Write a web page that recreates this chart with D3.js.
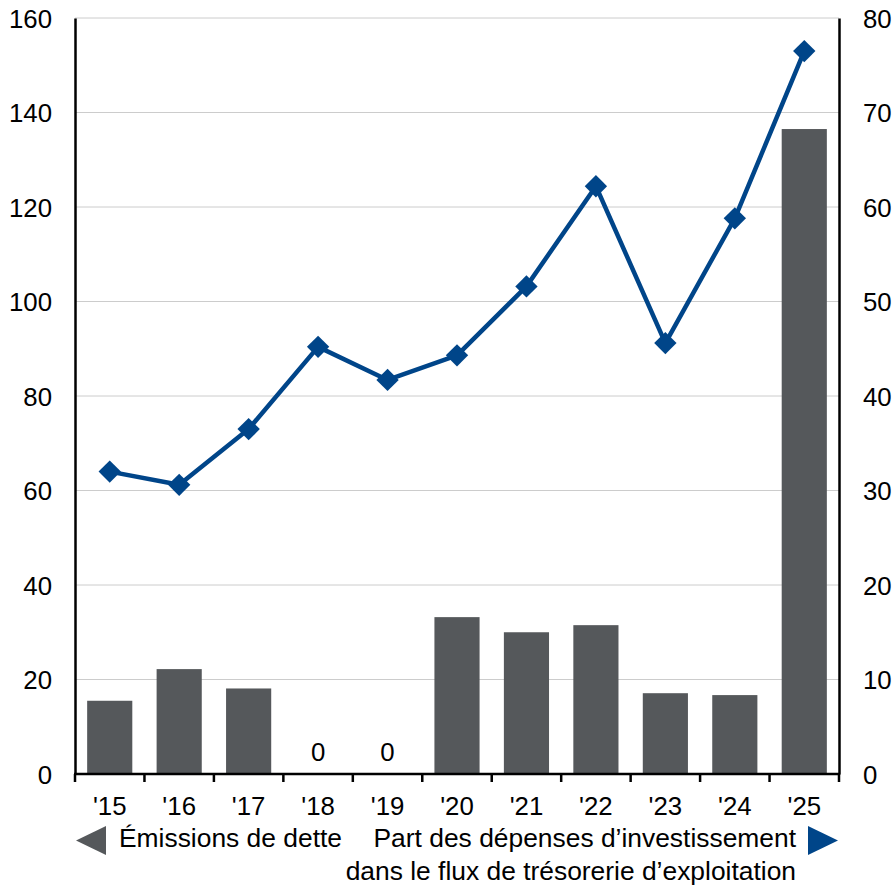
<!DOCTYPE html>
<html><head><meta charset="utf-8">
<script src="https://cdn.jsdelivr.net/npm/d3@7"></script>
<style>body{margin:0;background:#fff}svg{display:block}text{font-family:"Liberation Sans",Arial,sans-serif;fill:#000}</style>
</head><body><svg id="c" width="894" height="887"></svg>
<script>
const categories = ["'15","'16","'17","'18","'19","'20","'21","'22","'23","'24","'25"];
const debtIssuance = [15.5, 22.2, 18.1, 0, 0, 33.2, 30.0, 31.5, 17.1, 16.7, 136.5];
const capexShare = [32.0, 30.6, 36.5, 45.2, 41.7, 44.3, 51.6, 62.2, 45.6, 58.8, 76.5];
const leftTicks = [0,20,40,60,80,100,120,140,160];
const rightTicks = [0,10,20,30,40,50,60,70,80];

const svg = d3.select("#c");
const L = 75, R = 839, T = 18, B = 774;
const x = d3.scaleBand().domain(categories).range([L, R]).paddingInner(0.35).paddingOuter(0.175);
const yL = d3.scaleLinear().domain([0,160]).range([B, T]);
const yR = d3.scaleLinear().domain([0,80]).range([B, T]);
const fs = 25.8, lfs = 26.4;

// grid
svg.append("g").selectAll("line").data(leftTicks.filter(d=>d>0)).join("line")
  .attr("x1", L).attr("x2", R).attr("y1", d=>yL(d)).attr("y2", d=>yL(d))
  .attr("stroke", "#cccccc").attr("stroke-width", 1);

// bars
svg.append("g").selectAll("rect").data(debtIssuance).join("rect")
  .attr("x", (d,i)=>x(categories[i])).attr("width", x.bandwidth())
  .attr("y", d=>yL(d)).attr("height", d=>B - yL(d))
  .attr("fill", "#55585b");

// zero labels
svg.append("g").selectAll("text").data(debtIssuance.map((d,i)=>({d,i})).filter(o=>o.d===0)).join("text")
  .attr("x", o=>x(categories[o.i]) + x.bandwidth()/2).attr("y", 761)
  .attr("text-anchor","middle").attr("font-size", fs).text("0");

// line
const line = d3.line().x((d,i)=>x(categories[i]) + x.bandwidth()/2).y(d=>yR(d));
svg.append("path").datum(capexShare).attr("d", line)
  .attr("fill","none").attr("stroke","#004589").attr("stroke-width",4.5).attr("stroke-linejoin","round");
svg.append("g").selectAll("path").data(capexShare).join("path")
  .attr("transform",(d,i)=>`translate(${x(categories[i]) + x.bandwidth()/2},${yR(d)}) rotate(45)`)
  .attr("d", d3.symbol().type(d3.symbolSquare).size(250))
  .attr("fill","#004589");

// axes
const axL = svg.append("g").attr("transform",`translate(${L},0)`)
  .call(d3.axisLeft(yL).tickValues(leftTicks).tickSize(0).tickPadding(23));
const axR = svg.append("g").attr("transform",`translate(${R},0)`)
  .call(d3.axisRight(yR).tickValues(rightTicks).tickSize(0).tickPadding(24));
[axL, axR].forEach(a=>{
  a.select(".domain").attr("stroke","#000").attr("stroke-width",2.5);
  a.selectAll("text").attr("font-size", fs).attr("font-family",'"Liberation Sans",Arial,sans-serif').attr("fill","#000");
});
axL.selectAll(".tick text").attr("dy","0.35em");
axR.selectAll(".tick text").attr("dy","0.35em");

// bottom axis
const bx = svg.append("g");
bx.append("line").attr("x1", L-1).attr("x2", R+1).attr("y1", B).attr("y2", B).attr("stroke","#000").attr("stroke-width",2.5);
const bounds = categories.map(c=>x(c) - x.step()*x.paddingInner()/2).concat([R]);
bx.selectAll("line.t").data(bounds).join("line").attr("class","t")
  .attr("x1", d=>d).attr("x2", d=>d).attr("y1", B).attr("y2", B+8)
  .attr("stroke","#000").attr("stroke-width",2.5);
bx.selectAll("text").data(categories).join("text")
  .attr("x", c=>x(c)+x.bandwidth()/2).attr("y", 815)
  .attr("text-anchor","middle").attr("font-size", fs).text(c=>c);

// legend
svg.append("path").attr("d", `M106,826 L106,855 L76,840.5 Z`).attr("fill","#55585b");
svg.append("text").attr("x",119).attr("y",847).attr("font-size",lfs).text("Émissions de dette");
svg.append("path").attr("d", `M808,826 L808,855 L838,840.5 Z`).attr("fill","#004589");
svg.append("text").attr("x",796).attr("y",847).attr("text-anchor","end").attr("font-size",lfs).text("Part des dépenses d’investissement");
svg.append("text").attr("x",796).attr("y",880).attr("text-anchor","end").attr("font-size",lfs).text("dans le flux de trésorerie d’exploitation");
</script></body></html>
